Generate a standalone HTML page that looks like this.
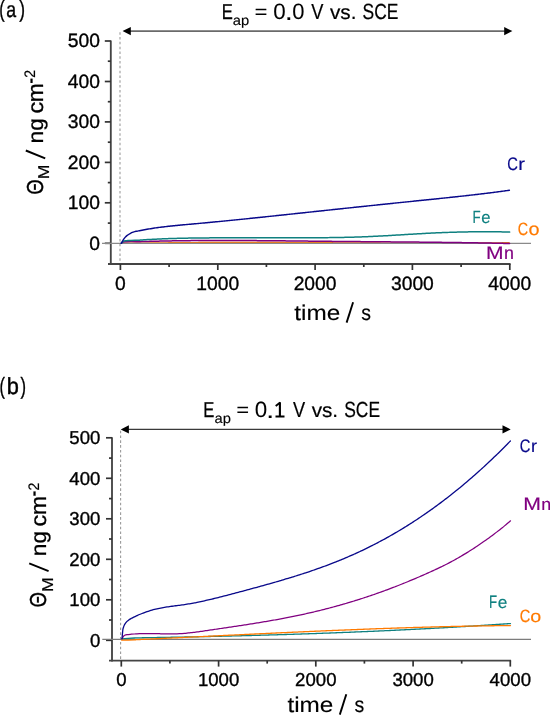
<!DOCTYPE html>
<html><head><meta charset="utf-8"><style>
html,body{margin:0;padding:0;background:#fff;}
body{width:550px;height:715px;overflow:hidden;}
svg{display:block;font-family:"Liberation Sans", sans-serif;will-change:transform;}
text{font-kerning:none;font-variant-ligatures:none;text-rendering:geometricPrecision;}
</style></head><body>
<svg width="550" height="715" viewBox="0 0 550 715">
<rect width="550" height="715" fill="#fff"/>
<line x1="120.0" y1="32.2" x2="120.0" y2="263" stroke="#a4a4a4" stroke-width="1.2" stroke-dasharray="2.5,2.31" stroke-dashoffset="0"/>
<line x1="128.6" y1="31.1" x2="506.4" y2="31.1" stroke="#6a6a6a" stroke-width="1.6"/>
<path d="M122.6,31.1 L130.79999999999998,27.0 L130.79999999999998,35.2 Z" fill="#000"/>
<path d="M512.4,31.1 L504.2,27.0 L504.2,35.2 Z" fill="#000"/>
<line x1="110.8" y1="40.5" x2="110.8" y2="264.9" stroke="#444444" stroke-width="1.85"/>
<line x1="108" y1="264" x2="510.6" y2="264" stroke="#444444" stroke-width="1.85"/>
<line x1="104.8" y1="243.3" x2="110.8" y2="243.3" stroke="#333333" stroke-width="1.7"/>
<line x1="107.8" y1="223.1" x2="110.8" y2="223.1" stroke="#333333" stroke-width="1.7"/>
<line x1="104.8" y1="202.8" x2="110.8" y2="202.8" stroke="#333333" stroke-width="1.7"/>
<line x1="107.8" y1="182.6" x2="110.8" y2="182.6" stroke="#333333" stroke-width="1.7"/>
<line x1="104.8" y1="162.4" x2="110.8" y2="162.4" stroke="#333333" stroke-width="1.7"/>
<line x1="107.8" y1="142.2" x2="110.8" y2="142.2" stroke="#333333" stroke-width="1.7"/>
<line x1="104.8" y1="121.9" x2="110.8" y2="121.9" stroke="#333333" stroke-width="1.7"/>
<line x1="107.8" y1="101.7" x2="110.8" y2="101.7" stroke="#333333" stroke-width="1.7"/>
<line x1="104.8" y1="81.5" x2="110.8" y2="81.5" stroke="#333333" stroke-width="1.7"/>
<line x1="107.8" y1="61.2" x2="110.8" y2="61.2" stroke="#333333" stroke-width="1.7"/>
<line x1="104.8" y1="41.0" x2="110.8" y2="41.0" stroke="#333333" stroke-width="1.7"/>
<line x1="120.4" y1="264" x2="120.4" y2="270" stroke="#333333" stroke-width="1.7"/>
<line x1="169.1" y1="264" x2="169.1" y2="267" stroke="#333333" stroke-width="1.7"/>
<line x1="217.8" y1="264" x2="217.8" y2="270" stroke="#333333" stroke-width="1.7"/>
<line x1="266.4" y1="264" x2="266.4" y2="267" stroke="#333333" stroke-width="1.7"/>
<line x1="315.1" y1="264" x2="315.1" y2="270" stroke="#333333" stroke-width="1.7"/>
<line x1="363.8" y1="264" x2="363.8" y2="267" stroke="#333333" stroke-width="1.7"/>
<line x1="412.4" y1="264" x2="412.4" y2="270" stroke="#333333" stroke-width="1.7"/>
<line x1="461.1" y1="264" x2="461.1" y2="267" stroke="#333333" stroke-width="1.7"/>
<line x1="509.8" y1="264" x2="509.8" y2="270" stroke="#333333" stroke-width="1.7"/>
<path d="M121.30,243.30 C122.42,243.30 125.72,243.29 128.00,243.30 C130.28,243.31 133.42,243.37 135.00,243.37 C136.58,243.37 136.67,243.34 137.50,243.32 C138.33,243.31 139.17,243.29 140.00,243.28 C140.83,243.26 141.67,243.25 142.50,243.24 C143.33,243.22 144.17,243.21 145.00,243.19 C145.83,243.18 146.67,243.17 147.50,243.15 C148.33,243.14 149.17,243.13 150.00,243.12 C150.83,243.10 151.67,243.09 152.50,243.08 C153.33,243.07 154.17,243.05 155.00,243.04 C155.83,243.03 156.67,243.02 157.50,243.01 C158.33,243.00 159.17,242.99 160.00,242.97 C160.83,242.96 161.67,242.95 162.50,242.94 C163.33,242.93 164.17,242.92 165.00,242.91 C165.83,242.90 166.67,242.89 167.50,242.88 C168.33,242.87 169.17,242.86 170.00,242.85 C170.83,242.85 171.67,242.84 172.50,242.83 C173.33,242.82 174.17,242.81 175.00,242.80 C175.83,242.79 176.67,242.79 177.50,242.78 C178.33,242.77 179.17,242.76 180.00,242.76 C180.83,242.75 181.67,242.74 182.50,242.73 C183.33,242.73 184.17,242.72 185.00,242.71 C185.83,242.71 186.67,242.70 187.50,242.69 C188.33,242.69 189.17,242.68 190.00,242.68 C190.83,242.67 191.67,242.66 192.50,242.66 C193.33,242.65 194.17,242.65 195.00,242.64 C195.83,242.64 196.67,242.63 197.50,242.63 C198.33,242.62 199.17,242.62 200.00,242.61 C200.83,242.61 201.67,242.60 202.50,242.60 C203.33,242.60 204.17,242.59 205.00,242.59 C205.83,242.58 206.67,242.58 207.50,242.58 C208.33,242.57 209.17,242.57 210.00,242.57 C210.83,242.56 211.67,242.56 212.50,242.56 C213.33,242.55 214.17,242.55 215.00,242.55 C215.83,242.55 216.67,242.54 217.50,242.54 C218.33,242.54 219.17,242.54 220.00,242.54 C220.83,242.53 221.67,242.53 222.50,242.53 C223.33,242.53 224.17,242.53 225.00,242.53 C225.83,242.52 226.67,242.52 227.50,242.52 C228.33,242.52 229.17,242.52 230.00,242.52 C230.83,242.52 231.67,242.52 232.50,242.52 C233.33,242.52 234.17,242.52 235.00,242.52 C235.83,242.52 236.67,242.52 237.50,242.52 C238.33,242.52 239.17,242.52 240.00,242.52 C240.83,242.52 241.67,242.52 242.50,242.52 C243.33,242.52 244.17,242.52 245.00,242.52 C245.83,242.52 246.67,242.52 247.50,242.52 C248.33,242.52 249.17,242.52 250.00,242.52 C250.83,242.52 251.67,242.53 252.50,242.53 C253.33,242.53 254.17,242.53 255.00,242.53 C255.83,242.53 256.67,242.53 257.50,242.54 C258.33,242.54 259.17,242.54 260.00,242.54 C260.83,242.54 261.67,242.55 262.50,242.55 C263.33,242.55 264.17,242.55 265.00,242.55 C265.83,242.56 266.67,242.56 267.50,242.56 C268.33,242.56 269.17,242.57 270.00,242.57 C270.83,242.57 271.67,242.57 272.50,242.58 C273.33,242.58 274.17,242.58 275.00,242.59 C275.83,242.59 276.67,242.59 277.50,242.59 C278.33,242.60 279.17,242.60 280.00,242.60 C280.83,242.61 281.67,242.61 282.50,242.61 C283.33,242.62 284.17,242.62 285.00,242.62 C285.83,242.63 286.67,242.63 287.50,242.63 C288.33,242.64 289.17,242.64 290.00,242.65 C290.83,242.65 291.67,242.65 292.50,242.66 C293.33,242.66 294.17,242.66 295.00,242.67 C295.83,242.67 296.67,242.68 297.50,242.68 C298.33,242.68 299.17,242.69 300.00,242.69 C300.83,242.70 301.67,242.70 302.50,242.71 C303.33,242.71 304.17,242.71 305.00,242.72 C305.83,242.72 306.67,242.73 307.50,242.73 C308.33,242.74 309.17,242.74 310.00,242.74 C310.83,242.75 311.67,242.75 312.50,242.76 C313.33,242.76 314.17,242.77 315.00,242.77 C315.83,242.78 316.67,242.78 317.50,242.79 C318.33,242.79 319.17,242.79 320.00,242.80 C320.83,242.80 321.67,242.81 322.50,242.81 C323.33,242.82 324.17,242.82 325.00,242.83 C325.83,242.83 326.67,242.84 327.50,242.84 C328.33,242.85 329.17,242.85 330.00,242.86 C330.83,242.86 331.67,242.86 332.50,242.87 C333.33,242.87 334.17,242.88 335.00,242.88 C335.83,242.89 336.67,242.89 337.50,242.90 C338.33,242.90 339.17,242.91 340.00,242.91 C340.83,242.92 341.67,242.92 342.50,242.93 C343.33,242.93 344.17,242.94 345.00,242.94 C345.83,242.95 346.67,242.95 347.50,242.95 C348.33,242.96 349.17,242.96 350.00,242.97 C350.83,242.97 351.67,242.98 352.50,242.98 C353.33,242.99 354.17,242.99 355.00,243.00 C355.83,243.00 356.67,243.00 357.50,243.01 C358.33,243.01 359.17,243.02 360.00,243.02 C360.83,243.03 361.67,243.03 362.50,243.04 C363.33,243.04 364.17,243.04 365.00,243.05 C365.83,243.05 366.67,243.06 367.50,243.06 C368.33,243.07 369.17,243.07 370.00,243.07 C370.83,243.08 371.67,243.08 372.50,243.09 C373.33,243.09 374.17,243.09 375.00,243.10 C375.83,243.10 376.67,243.11 377.50,243.11 C378.33,243.11 379.17,243.12 380.00,243.12 C380.83,243.12 381.67,243.13 382.50,243.13 C383.33,243.13 384.17,243.14 385.00,243.14 C385.83,243.14 386.67,243.15 387.50,243.15 C388.33,243.15 389.17,243.16 390.00,243.16 C390.83,243.16 391.67,243.17 392.50,243.17 C393.33,243.17 394.17,243.18 395.00,243.18 C395.83,243.18 396.67,243.18 397.50,243.19 C398.33,243.19 399.17,243.19 400.00,243.20 C400.83,243.20 401.67,243.20 402.50,243.20 C403.33,243.21 404.17,243.21 405.00,243.21 C405.83,243.21 406.67,243.21 407.50,243.22 C408.33,243.22 409.17,243.22 410.00,243.22 C410.83,243.22 411.67,243.22 412.50,243.23 C413.33,243.23 414.17,243.23 415.00,243.23 C415.83,243.23 416.67,243.23 417.50,243.23 C418.33,243.24 419.17,243.24 420.00,243.24 C420.83,243.24 421.67,243.24 422.50,243.24 C423.33,243.24 424.17,243.24 425.00,243.24 C425.83,243.24 426.67,243.24 427.50,243.24 C428.33,243.24 429.17,243.24 430.00,243.24 C430.83,243.24 431.67,243.24 432.50,243.24 C433.33,243.24 434.17,243.24 435.00,243.24 C435.83,243.24 436.67,243.24 437.50,243.24 C438.33,243.24 439.17,243.24 440.00,243.24 C440.83,243.24 441.67,243.24 442.50,243.24 C443.33,243.23 444.17,243.23 445.00,243.23 C445.83,243.23 446.67,243.23 447.50,243.23 C448.33,243.22 449.17,243.22 450.00,243.22 C450.83,243.22 451.67,243.22 452.50,243.21 C453.33,243.21 454.17,243.21 455.00,243.21 C455.83,243.20 456.67,243.20 457.50,243.20 C458.33,243.19 459.17,243.19 460.00,243.19 C460.83,243.18 461.67,243.18 462.50,243.18 C463.33,243.17 464.17,243.17 465.00,243.17 C465.83,243.16 466.67,243.16 467.50,243.15 C468.33,243.15 469.17,243.14 470.00,243.14 C470.83,243.13 471.67,243.13 472.50,243.12 C473.33,243.12 474.17,243.11 475.00,243.11 C475.83,243.10 476.67,243.10 477.50,243.09 C478.33,243.09 479.17,243.08 480.00,243.07 C480.83,243.07 481.67,243.06 482.50,243.05 C483.33,243.05 484.17,243.04 485.00,243.03 C485.83,243.03 486.67,243.02 487.50,243.01 C488.33,243.01 489.17,243.00 490.00,242.99 C490.83,242.98 491.67,242.98 492.50,242.97 C493.33,242.96 494.17,242.95 495.00,242.94 C495.83,242.93 496.67,242.92 497.50,242.92 C498.33,242.91 499.17,242.90 500.00,242.89 C500.83,242.88 501.67,242.87 502.50,242.86 C503.33,242.85 504.17,242.84 505.00,242.83 C505.83,242.82 506.73,242.81 507.50,242.80 C508.27,242.79 509.25,242.78 509.60,242.77" fill="none" stroke="#ff7a00" stroke-width="1.5" stroke-linejoin="round"/>
<line x1="102" y1="243.4" x2="531" y2="243.4" stroke="#8a8a8a" stroke-width="1.2"/>
<path d="M121.30,243.30 C121.47,243.17 121.97,242.72 122.30,242.50 C122.63,242.28 122.68,242.12 123.30,242.00 C123.92,241.88 124.80,241.87 126.00,241.80 C127.20,241.73 128.17,241.63 130.50,241.60 C132.83,241.57 138.00,241.65 140.00,241.65 C142.00,241.64 141.67,241.60 142.50,241.57 C143.33,241.54 144.17,241.52 145.00,241.49 C145.83,241.47 146.67,241.45 147.50,241.42 C148.33,241.40 149.17,241.38 150.00,241.35 C150.83,241.33 151.67,241.31 152.50,241.29 C153.33,241.27 154.17,241.25 155.00,241.23 C155.83,241.21 156.67,241.19 157.50,241.17 C158.33,241.15 159.17,241.13 160.00,241.11 C160.83,241.09 161.67,241.07 162.50,241.05 C163.33,241.04 164.17,241.02 165.00,241.00 C165.83,240.99 166.67,240.97 167.50,240.96 C168.33,240.94 169.17,240.92 170.00,240.91 C170.83,240.89 171.67,240.88 172.50,240.87 C173.33,240.85 174.17,240.84 175.00,240.83 C175.83,240.81 176.67,240.80 177.50,240.79 C178.33,240.78 179.17,240.76 180.00,240.75 C180.83,240.74 181.67,240.73 182.50,240.72 C183.33,240.71 184.17,240.70 185.00,240.69 C185.83,240.68 186.67,240.67 187.50,240.66 C188.33,240.65 189.17,240.64 190.00,240.63 C190.83,240.63 191.67,240.62 192.50,240.61 C193.33,240.60 194.17,240.60 195.00,240.59 C195.83,240.58 196.67,240.58 197.50,240.57 C198.33,240.56 199.17,240.56 200.00,240.55 C200.83,240.55 201.67,240.54 202.50,240.54 C203.33,240.53 204.17,240.53 205.00,240.52 C205.83,240.52 206.67,240.52 207.50,240.51 C208.33,240.51 209.17,240.51 210.00,240.50 C210.83,240.50 211.67,240.50 212.50,240.50 C213.33,240.49 214.17,240.49 215.00,240.49 C215.83,240.49 216.67,240.49 217.50,240.49 C218.33,240.49 219.17,240.49 220.00,240.49 C220.83,240.49 221.67,240.48 222.50,240.49 C223.33,240.49 224.17,240.49 225.00,240.49 C225.83,240.49 226.67,240.49 227.50,240.49 C228.33,240.49 229.17,240.49 230.00,240.49 C230.83,240.50 231.67,240.50 232.50,240.50 C233.33,240.50 234.17,240.50 235.00,240.51 C235.83,240.51 236.67,240.51 237.50,240.52 C238.33,240.52 239.17,240.52 240.00,240.53 C240.83,240.53 241.67,240.53 242.50,240.54 C243.33,240.54 244.17,240.54 245.00,240.55 C245.83,240.55 246.67,240.56 247.50,240.56 C248.33,240.57 249.17,240.57 250.00,240.58 C250.83,240.58 251.67,240.59 252.50,240.59 C253.33,240.60 254.17,240.60 255.00,240.61 C255.83,240.62 256.67,240.62 257.50,240.63 C258.33,240.63 259.17,240.64 260.00,240.65 C260.83,240.65 261.67,240.66 262.50,240.67 C263.33,240.67 264.17,240.68 265.00,240.69 C265.83,240.69 266.67,240.70 267.50,240.71 C268.33,240.72 269.17,240.72 270.00,240.73 C270.83,240.74 271.67,240.74 272.50,240.75 C273.33,240.76 274.17,240.77 275.00,240.78 C275.83,240.78 276.67,240.79 277.50,240.80 C278.33,240.81 279.17,240.82 280.00,240.82 C280.83,240.83 281.67,240.84 282.50,240.85 C283.33,240.86 284.17,240.87 285.00,240.87 C285.83,240.88 286.67,240.89 287.50,240.90 C288.33,240.91 289.17,240.92 290.00,240.93 C290.83,240.94 291.67,240.94 292.50,240.95 C293.33,240.96 294.17,240.97 295.00,240.98 C295.83,240.99 296.67,241.00 297.50,241.01 C298.33,241.02 299.17,241.03 300.00,241.03 C300.83,241.04 301.67,241.05 302.50,241.06 C303.33,241.07 304.17,241.08 305.00,241.09 C305.83,241.10 306.67,241.11 307.50,241.12 C308.33,241.12 309.17,241.13 310.00,241.14 C310.83,241.15 311.67,241.16 312.50,241.17 C313.33,241.18 314.17,241.19 315.00,241.20 C315.83,241.21 316.67,241.21 317.50,241.22 C318.33,241.23 319.17,241.24 320.00,241.25 C320.83,241.26 321.67,241.27 322.50,241.28 C323.33,241.28 324.17,241.29 325.00,241.30 C325.83,241.31 326.67,241.32 327.50,241.33 C328.33,241.34 329.17,241.34 330.00,241.35 C330.83,241.36 331.67,241.37 332.50,241.38 C333.33,241.39 334.17,241.39 335.00,241.40 C335.83,241.41 336.67,241.42 337.50,241.42 C338.33,241.43 339.17,241.44 340.00,241.45 C340.83,241.46 341.67,241.46 342.50,241.47 C343.33,241.48 344.17,241.49 345.00,241.49 C345.83,241.50 346.67,241.51 347.50,241.52 C348.33,241.52 349.17,241.53 350.00,241.54 C350.83,241.54 351.67,241.55 352.50,241.56 C353.33,241.57 354.17,241.57 355.00,241.58 C355.83,241.59 356.67,241.59 357.50,241.60 C358.33,241.61 359.17,241.62 360.00,241.62 C360.83,241.63 361.67,241.64 362.50,241.64 C363.33,241.65 364.17,241.66 365.00,241.66 C365.83,241.67 366.67,241.68 367.50,241.68 C368.33,241.69 369.17,241.70 370.00,241.70 C370.83,241.71 371.67,241.72 372.50,241.72 C373.33,241.73 374.17,241.74 375.00,241.75 C375.83,241.75 376.67,241.76 377.50,241.77 C378.33,241.77 379.17,241.78 380.00,241.79 C380.83,241.79 381.67,241.80 382.50,241.81 C383.33,241.81 384.17,241.82 385.00,241.83 C385.83,241.83 386.67,241.84 387.50,241.85 C388.33,241.85 389.17,241.86 390.00,241.87 C390.83,241.87 391.67,241.88 392.50,241.89 C393.33,241.90 394.17,241.90 395.00,241.91 C395.83,241.92 396.67,241.92 397.50,241.93 C398.33,241.94 399.17,241.94 400.00,241.95 C400.83,241.96 401.67,241.97 402.50,241.97 C403.33,241.98 404.17,241.99 405.00,242.00 C405.83,242.00 406.67,242.01 407.50,242.02 C408.33,242.03 409.17,242.03 410.00,242.04 C410.83,242.05 411.67,242.06 412.50,242.06 C413.33,242.07 414.17,242.08 415.00,242.09 C415.83,242.09 416.67,242.10 417.50,242.11 C418.33,242.12 419.17,242.13 420.00,242.13 C420.83,242.14 421.67,242.15 422.50,242.16 C423.33,242.17 424.17,242.18 425.00,242.18 C425.83,242.19 426.67,242.20 427.50,242.21 C428.33,242.22 429.17,242.23 430.00,242.24 C430.83,242.24 431.67,242.25 432.50,242.26 C433.33,242.27 434.17,242.28 435.00,242.29 C435.83,242.30 436.67,242.31 437.50,242.32 C438.33,242.33 439.17,242.34 440.00,242.35 C440.83,242.36 441.67,242.37 442.50,242.38 C443.33,242.39 444.17,242.40 445.00,242.41 C445.83,242.42 446.67,242.43 447.50,242.44 C448.33,242.45 449.17,242.46 450.00,242.47 C450.83,242.48 451.67,242.49 452.50,242.50 C453.33,242.51 454.17,242.52 455.00,242.53 C455.83,242.55 456.67,242.56 457.50,242.57 C458.33,242.58 459.17,242.59 460.00,242.60 C460.83,242.61 461.67,242.63 462.50,242.64 C463.33,242.65 464.17,242.66 465.00,242.68 C465.83,242.69 466.67,242.70 467.50,242.71 C468.33,242.73 469.17,242.74 470.00,242.75 C470.83,242.76 471.67,242.78 472.50,242.79 C473.33,242.80 474.17,242.82 475.00,242.83 C475.83,242.85 476.67,242.86 477.50,242.87 C478.33,242.89 479.17,242.90 480.00,242.92 C480.83,242.93 481.67,242.95 482.50,242.96 C483.33,242.98 484.17,242.99 485.00,243.01 C485.83,243.02 486.67,243.04 487.50,243.05 C488.33,243.07 489.17,243.08 490.00,243.10 C490.83,243.11 491.67,243.13 492.50,243.15 C493.33,243.16 494.17,243.18 495.00,243.20 C495.83,243.21 496.67,243.23 497.50,243.25 C498.33,243.27 499.17,243.28 500.00,243.30 C500.83,243.32 501.67,243.34 502.50,243.35 C503.33,243.37 504.17,243.39 505.00,243.41 C505.83,243.43 506.73,243.45 507.50,243.47 C508.27,243.48 509.25,243.51 509.60,243.51" fill="none" stroke="#800080" stroke-width="1.5" stroke-linejoin="round" stroke-linecap="round"/>
<path d="M121.30,243.30 C121.47,243.13 121.97,242.62 122.30,242.30 C122.63,241.98 122.80,241.65 123.30,241.40 C123.80,241.15 124.52,240.95 125.30,240.80 C126.08,240.65 127.05,240.57 128.00,240.50 C128.95,240.43 129.83,240.43 131.00,240.40 C132.17,240.37 133.53,240.33 135.00,240.30 C136.47,240.27 138.97,240.23 139.80,240.20 C140.63,240.17 139.55,240.15 140.00,240.10 C140.45,240.06 141.67,239.99 142.50,239.93 C143.33,239.88 144.17,239.82 145.00,239.77 C145.83,239.72 146.67,239.66 147.50,239.62 C148.33,239.57 149.17,239.52 150.00,239.47 C150.83,239.42 151.67,239.38 152.50,239.33 C153.33,239.29 154.17,239.24 155.00,239.20 C155.83,239.16 156.67,239.12 157.50,239.08 C158.33,239.04 159.17,239.00 160.00,238.97 C160.83,238.93 161.67,238.89 162.50,238.86 C163.33,238.82 164.17,238.79 165.00,238.76 C165.83,238.73 166.67,238.69 167.50,238.66 C168.33,238.63 169.17,238.60 170.00,238.58 C170.83,238.55 171.67,238.52 172.50,238.50 C173.33,238.47 174.17,238.44 175.00,238.42 C175.83,238.40 176.67,238.37 177.50,238.35 C178.33,238.33 179.17,238.31 180.00,238.29 C180.83,238.27 181.67,238.25 182.50,238.23 C183.33,238.21 184.17,238.19 185.00,238.18 C185.83,238.16 186.67,238.14 187.50,238.13 C188.33,238.11 189.17,238.10 190.00,238.08 C190.83,238.07 191.67,238.06 192.50,238.05 C193.33,238.03 194.17,238.02 195.00,238.01 C195.83,238.00 196.67,237.99 197.50,237.98 C198.33,237.97 199.17,237.96 200.00,237.95 C200.83,237.94 201.67,237.94 202.50,237.93 C203.33,237.92 204.17,237.91 205.00,237.91 C205.83,237.90 206.67,237.90 207.50,237.89 C208.33,237.88 209.17,237.88 210.00,237.87 C210.83,237.87 211.67,237.87 212.50,237.86 C213.33,237.86 214.17,237.86 215.00,237.85 C215.83,237.85 216.67,237.85 217.50,237.84 C218.33,237.84 219.17,237.84 220.00,237.84 C220.83,237.84 221.67,237.84 222.50,237.83 C223.33,237.83 224.17,237.83 225.00,237.83 C225.83,237.83 226.67,237.83 227.50,237.83 C228.33,237.83 229.17,237.83 230.00,237.83 C230.83,237.83 231.67,237.83 232.50,237.83 C233.33,237.83 234.17,237.83 235.00,237.83 C235.83,237.83 236.67,237.83 237.50,237.83 C238.33,237.83 239.17,237.83 240.00,237.83 C240.83,237.83 241.67,237.83 242.50,237.83 C243.33,237.83 244.17,237.83 245.00,237.83 C245.83,237.83 246.67,237.83 247.50,237.83 C248.33,237.83 249.17,237.83 250.00,237.83 C250.83,237.83 251.67,237.83 252.50,237.83 C253.33,237.83 254.17,237.84 255.00,237.84 C255.83,237.84 256.67,237.84 257.50,237.84 C258.33,237.84 259.17,237.84 260.00,237.84 C260.83,237.84 261.67,237.84 262.50,237.84 C263.33,237.84 264.17,237.84 265.00,237.84 C265.83,237.84 266.67,237.84 267.50,237.84 C268.33,237.84 269.17,237.84 270.00,237.84 C270.83,237.84 271.67,237.84 272.50,237.84 C273.33,237.84 274.17,237.84 275.00,237.84 C275.83,237.84 276.67,237.84 277.50,237.84 C278.33,237.83 279.17,237.83 280.00,237.83 C280.83,237.83 281.67,237.83 282.50,237.83 C283.33,237.83 284.17,237.83 285.00,237.83 C285.83,237.83 286.67,237.83 287.50,237.82 C288.33,237.82 289.17,237.82 290.00,237.82 C290.83,237.82 291.67,237.82 292.50,237.82 C293.33,237.81 294.17,237.81 295.00,237.81 C295.83,237.81 296.67,237.81 297.50,237.80 C298.33,237.80 299.17,237.80 300.00,237.80 C300.83,237.79 301.67,237.79 302.50,237.79 C303.33,237.79 304.17,237.78 305.00,237.78 C305.83,237.78 306.67,237.77 307.50,237.77 C308.33,237.77 309.17,237.76 310.00,237.76 C310.83,237.75 311.67,237.75 312.50,237.75 C313.33,237.74 314.17,237.74 315.00,237.73 C315.83,237.73 316.67,237.72 317.50,237.72 C318.33,237.71 319.17,237.71 320.00,237.70 C320.83,237.70 321.67,237.69 322.50,237.68 C323.33,237.68 324.17,237.67 325.00,237.66 C325.83,237.65 326.67,237.65 327.50,237.64 C328.33,237.63 329.17,237.62 330.00,237.61 C330.83,237.60 331.67,237.59 332.50,237.58 C333.33,237.57 334.17,237.56 335.00,237.55 C335.83,237.53 336.67,237.52 337.50,237.51 C338.33,237.49 339.17,237.48 340.00,237.47 C340.83,237.45 341.67,237.44 342.50,237.42 C343.33,237.40 344.17,237.39 345.00,237.37 C345.83,237.35 346.67,237.33 347.50,237.31 C348.33,237.29 349.17,237.27 350.00,237.25 C350.83,237.23 351.67,237.21 352.50,237.18 C353.33,237.16 354.17,237.14 355.00,237.11 C355.83,237.09 356.67,237.06 357.50,237.03 C358.33,237.00 359.17,236.98 360.00,236.95 C360.83,236.92 361.67,236.89 362.50,236.85 C363.33,236.82 364.17,236.79 365.00,236.76 C365.83,236.72 366.67,236.69 367.50,236.65 C368.33,236.61 369.17,236.58 370.00,236.54 C370.83,236.50 371.67,236.46 372.50,236.42 C373.33,236.38 374.17,236.34 375.00,236.30 C375.83,236.26 376.67,236.22 377.50,236.17 C378.33,236.13 379.17,236.09 380.00,236.04 C380.83,236.00 381.67,235.95 382.50,235.91 C383.33,235.86 384.17,235.82 385.00,235.77 C385.83,235.72 386.67,235.68 387.50,235.63 C388.33,235.58 389.17,235.53 390.00,235.49 C390.83,235.44 391.67,235.39 392.50,235.34 C393.33,235.29 394.17,235.24 395.00,235.19 C395.83,235.14 396.67,235.09 397.50,235.04 C398.33,234.99 399.17,234.94 400.00,234.89 C400.83,234.84 401.67,234.79 402.50,234.74 C403.33,234.69 404.17,234.64 405.00,234.59 C405.83,234.54 406.67,234.49 407.50,234.44 C408.33,234.39 409.17,234.34 410.00,234.29 C410.83,234.24 411.67,234.19 412.50,234.14 C413.33,234.09 414.17,234.04 415.00,234.00 C415.83,233.95 416.67,233.90 417.50,233.85 C418.33,233.80 419.17,233.76 420.00,233.71 C420.83,233.66 421.67,233.61 422.50,233.57 C423.33,233.52 424.17,233.48 425.00,233.43 C425.83,233.39 426.67,233.34 427.50,233.30 C428.33,233.26 429.17,233.21 430.00,233.17 C430.83,233.13 431.67,233.09 432.50,233.05 C433.33,233.01 434.17,232.97 435.00,232.93 C435.83,232.89 436.67,232.85 437.50,232.81 C438.33,232.78 439.17,232.74 440.00,232.71 C440.83,232.67 441.67,232.64 442.50,232.60 C443.33,232.57 444.17,232.54 445.00,232.51 C445.83,232.48 446.67,232.44 447.50,232.42 C448.33,232.39 449.17,232.36 450.00,232.33 C450.83,232.30 451.67,232.27 452.50,232.25 C453.33,232.22 454.17,232.20 455.00,232.17 C455.83,232.15 456.67,232.13 457.50,232.10 C458.33,232.08 459.17,232.06 460.00,232.04 C460.83,232.02 461.67,232.00 462.50,231.98 C463.33,231.96 464.17,231.95 465.00,231.93 C465.83,231.91 466.67,231.90 467.50,231.88 C468.33,231.87 469.17,231.85 470.00,231.84 C470.83,231.83 471.67,231.81 472.50,231.80 C473.33,231.79 474.17,231.78 475.00,231.77 C475.83,231.76 476.67,231.75 477.50,231.75 C478.33,231.74 479.17,231.73 480.00,231.73 C480.83,231.72 481.67,231.72 482.50,231.71 C483.33,231.71 484.17,231.70 485.00,231.70 C485.83,231.70 486.67,231.70 487.50,231.70 C488.33,231.70 489.17,231.70 490.00,231.71 C490.83,231.71 491.67,231.72 492.50,231.72 C493.33,231.73 494.17,231.74 495.00,231.75 C495.83,231.76 496.67,231.77 497.50,231.78 C498.33,231.80 499.17,231.81 500.00,231.83 C500.83,231.85 501.67,231.86 502.50,231.89 C503.33,231.91 504.17,231.93 505.00,231.96 C505.83,231.98 506.73,232.01 507.50,232.04 C508.27,232.07 509.25,232.11 509.60,232.12" fill="none" stroke="#0f8080" stroke-width="1.5" stroke-linejoin="round" stroke-linecap="round"/>
<path d="M121.30,243.30 C121.43,243.07 121.75,242.50 122.10,241.90 C122.45,241.30 122.90,240.45 123.40,239.70 C123.90,238.95 124.52,238.08 125.10,237.40 C125.68,236.72 126.00,236.28 126.90,235.60 C127.80,234.92 129.45,233.88 130.50,233.30 C131.55,232.72 132.28,232.45 133.20,232.10 C134.12,231.75 135.37,231.35 136.00,231.20 C136.63,231.05 136.42,231.31 137.00,231.22 C137.58,231.14 138.67,230.86 139.50,230.69 C140.33,230.52 141.17,230.35 142.00,230.19 C142.83,230.03 143.67,229.87 144.50,229.72 C145.33,229.57 146.17,229.42 147.00,229.27 C147.83,229.13 148.67,228.99 149.50,228.85 C150.33,228.71 151.17,228.58 152.00,228.45 C152.83,228.32 153.67,228.20 154.50,228.07 C155.33,227.95 156.17,227.83 157.00,227.72 C157.83,227.60 158.67,227.49 159.50,227.38 C160.33,227.27 161.17,227.16 162.00,227.06 C162.83,226.95 163.67,226.85 164.50,226.75 C165.33,226.66 166.17,226.56 167.00,226.46 C167.83,226.37 168.67,226.28 169.50,226.19 C170.33,226.10 171.17,226.01 172.00,225.92 C172.83,225.84 173.67,225.75 174.50,225.67 C175.33,225.58 176.17,225.50 177.00,225.42 C177.83,225.34 178.67,225.26 179.50,225.18 C180.33,225.10 181.17,225.03 182.00,224.95 C182.83,224.87 183.67,224.80 184.50,224.72 C185.33,224.65 186.17,224.57 187.00,224.50 C187.83,224.42 188.67,224.35 189.50,224.27 C190.33,224.20 191.17,224.12 192.00,224.05 C192.83,223.98 193.67,223.90 194.50,223.83 C195.33,223.75 196.17,223.67 197.00,223.60 C197.83,223.52 198.67,223.45 199.50,223.37 C200.33,223.29 201.17,223.22 202.00,223.14 C202.83,223.06 203.67,222.99 204.50,222.91 C205.33,222.83 206.17,222.75 207.00,222.67 C207.83,222.60 208.67,222.52 209.50,222.44 C210.33,222.36 211.17,222.28 212.00,222.20 C212.83,222.12 213.67,222.04 214.50,221.96 C215.33,221.88 216.17,221.80 217.00,221.72 C217.83,221.64 218.67,221.56 219.50,221.48 C220.33,221.40 221.17,221.32 222.00,221.23 C222.83,221.15 223.67,221.07 224.50,220.99 C225.33,220.91 226.17,220.83 227.00,220.74 C227.83,220.66 228.67,220.58 229.50,220.50 C230.33,220.41 231.17,220.33 232.00,220.25 C232.83,220.16 233.67,220.08 234.50,220.00 C235.33,219.91 236.17,219.83 237.00,219.74 C237.83,219.66 238.67,219.58 239.50,219.49 C240.33,219.41 241.17,219.32 242.00,219.24 C242.83,219.15 243.67,219.07 244.50,218.98 C245.33,218.90 246.17,218.81 247.00,218.73 C247.83,218.64 248.67,218.55 249.50,218.47 C250.33,218.38 251.17,218.30 252.00,218.21 C252.83,218.12 253.67,218.04 254.50,217.95 C255.33,217.86 256.17,217.78 257.00,217.69 C257.83,217.60 258.67,217.52 259.50,217.43 C260.33,217.34 261.17,217.26 262.00,217.17 C262.83,217.08 263.67,216.99 264.50,216.91 C265.33,216.82 266.17,216.73 267.00,216.64 C267.83,216.56 268.67,216.47 269.50,216.38 C270.33,216.29 271.17,216.21 272.00,216.12 C272.83,216.03 273.67,215.94 274.50,215.85 C275.33,215.76 276.17,215.68 277.00,215.59 C277.83,215.50 278.67,215.41 279.50,215.32 C280.33,215.23 281.17,215.15 282.00,215.06 C282.83,214.97 283.67,214.88 284.50,214.79 C285.33,214.70 286.17,214.61 287.00,214.52 C287.83,214.44 288.67,214.35 289.50,214.26 C290.33,214.17 291.17,214.08 292.00,213.99 C292.83,213.90 293.67,213.81 294.50,213.72 C295.33,213.64 296.17,213.55 297.00,213.46 C297.83,213.37 298.67,213.28 299.50,213.19 C300.33,213.10 301.17,213.01 302.00,212.92 C302.83,212.83 303.67,212.75 304.50,212.66 C305.33,212.57 306.17,212.48 307.00,212.39 C307.83,212.30 308.67,212.21 309.50,212.12 C310.33,212.03 311.17,211.95 312.00,211.86 C312.83,211.77 313.67,211.68 314.50,211.59 C315.33,211.50 316.17,211.41 317.00,211.32 C317.83,211.23 318.67,211.15 319.50,211.06 C320.33,210.97 321.17,210.88 322.00,210.79 C322.83,210.70 323.67,210.61 324.50,210.52 C325.33,210.43 326.17,210.35 327.00,210.26 C327.83,210.17 328.67,210.08 329.50,209.99 C330.33,209.90 331.17,209.81 332.00,209.73 C332.83,209.64 333.67,209.55 334.50,209.46 C335.33,209.37 336.17,209.28 337.00,209.19 C337.83,209.11 338.67,209.02 339.50,208.93 C340.33,208.84 341.17,208.75 342.00,208.66 C342.83,208.58 343.67,208.49 344.50,208.40 C345.33,208.31 346.17,208.22 347.00,208.13 C347.83,208.05 348.67,207.96 349.50,207.87 C350.33,207.78 351.17,207.69 352.00,207.60 C352.83,207.52 353.67,207.43 354.50,207.34 C355.33,207.25 356.17,207.16 357.00,207.08 C357.83,206.99 358.67,206.90 359.50,206.81 C360.33,206.72 361.17,206.64 362.00,206.55 C362.83,206.46 363.67,206.37 364.50,206.29 C365.33,206.20 366.17,206.11 367.00,206.02 C367.83,205.94 368.67,205.85 369.50,205.76 C370.33,205.67 371.17,205.59 372.00,205.50 C372.83,205.41 373.67,205.32 374.50,205.24 C375.33,205.15 376.17,205.06 377.00,204.97 C377.83,204.89 378.67,204.80 379.50,204.71 C380.33,204.63 381.17,204.54 382.00,204.45 C382.83,204.37 383.67,204.28 384.50,204.19 C385.33,204.10 386.17,204.02 387.00,203.93 C387.83,203.84 388.67,203.76 389.50,203.67 C390.33,203.58 391.17,203.50 392.00,203.41 C392.83,203.33 393.67,203.24 394.50,203.15 C395.33,203.07 396.17,202.98 397.00,202.89 C397.83,202.81 398.67,202.72 399.50,202.64 C400.33,202.55 401.17,202.46 402.00,202.38 C402.83,202.29 403.67,202.21 404.50,202.12 C405.33,202.03 406.17,201.95 407.00,201.86 C407.83,201.78 408.67,201.69 409.50,201.61 C410.33,201.52 411.17,201.44 412.00,201.35 C412.83,201.26 413.67,201.18 414.50,201.09 C415.33,201.01 416.17,200.92 417.00,200.84 C417.83,200.75 418.67,200.67 419.50,200.58 C420.33,200.50 421.17,200.41 422.00,200.33 C422.83,200.24 423.67,200.16 424.50,200.07 C425.33,199.99 426.17,199.90 427.00,199.82 C427.83,199.73 428.67,199.65 429.50,199.56 C430.33,199.48 431.17,199.39 432.00,199.30 C432.83,199.22 433.67,199.13 434.50,199.05 C435.33,198.96 436.17,198.88 437.00,198.79 C437.83,198.70 438.67,198.62 439.50,198.53 C440.33,198.44 441.17,198.36 442.00,198.27 C442.83,198.18 443.67,198.10 444.50,198.01 C445.33,197.92 446.17,197.83 447.00,197.74 C447.83,197.66 448.67,197.57 449.50,197.48 C450.33,197.39 451.17,197.30 452.00,197.21 C452.83,197.12 453.67,197.04 454.50,196.95 C455.33,196.86 456.17,196.77 457.00,196.68 C457.83,196.59 458.67,196.49 459.50,196.40 C460.33,196.31 461.17,196.22 462.00,196.13 C462.83,196.04 463.67,195.94 464.50,195.85 C465.33,195.76 466.17,195.67 467.00,195.57 C467.83,195.48 468.67,195.38 469.50,195.29 C470.33,195.19 471.17,195.10 472.00,195.00 C472.83,194.91 473.67,194.81 474.50,194.72 C475.33,194.62 476.17,194.52 477.00,194.42 C477.83,194.33 478.67,194.23 479.50,194.13 C480.33,194.03 481.17,193.93 482.00,193.83 C482.83,193.73 483.67,193.63 484.50,193.53 C485.33,193.43 486.17,193.33 487.00,193.22 C487.83,193.12 488.67,193.02 489.50,192.91 C490.33,192.81 491.17,192.71 492.00,192.60 C492.83,192.49 493.67,192.39 494.50,192.28 C495.33,192.18 496.17,192.07 497.00,191.96 C497.83,191.85 498.67,191.74 499.50,191.63 C500.33,191.52 501.17,191.41 502.00,191.30 C502.83,191.19 503.67,191.08 504.50,190.97 C505.33,190.85 506.18,190.74 507.00,190.63 C507.82,190.51 509.00,190.35 509.40,190.29" fill="none" stroke="#08088a" stroke-width="1.45" stroke-linejoin="round" stroke-linecap="round"/>
<text x="100.0" y="249.7" font-size="19.3" text-anchor="end" fill="#000" stroke="#000" stroke-width="0.35">0</text>
<text x="100.0" y="209.2" font-size="19.3" text-anchor="end" fill="#000" stroke="#000" stroke-width="0.35">100</text>
<text x="100.0" y="168.8" font-size="19.3" text-anchor="end" fill="#000" stroke="#000" stroke-width="0.35">200</text>
<text x="100.0" y="128.3" font-size="19.3" text-anchor="end" fill="#000" stroke="#000" stroke-width="0.35">300</text>
<text x="100.0" y="87.9" font-size="19.3" text-anchor="end" fill="#000" stroke="#000" stroke-width="0.35">400</text>
<text x="100.0" y="47.4" font-size="19.3" text-anchor="end" fill="#000" stroke="#000" stroke-width="0.35">500</text>
<text x="120.4" y="289.5" font-size="19.3" text-anchor="middle" fill="#000" stroke="#000" stroke-width="0.35">0</text>
<text x="217.8" y="289.5" font-size="19.3" text-anchor="middle" fill="#000" stroke="#000" stroke-width="0.35">1000</text>
<text x="315.1" y="289.5" font-size="19.3" text-anchor="middle" fill="#000" stroke="#000" stroke-width="0.35">2000</text>
<text x="412.4" y="289.5" font-size="19.3" text-anchor="middle" fill="#000" stroke="#000" stroke-width="0.35">3000</text>
<text x="509.8" y="289.5" font-size="19.3" text-anchor="middle" fill="#000" stroke="#000" stroke-width="0.35">4000</text>
<line x1="120.6" y1="430" x2="120.6" y2="659.6" stroke="#9a9a9a" stroke-width="1.1" stroke-dasharray="2.6,2.2" stroke-dashoffset="4.1"/>
<line x1="126.7" y1="429.4" x2="504.7" y2="429.4" stroke="#3a3a3a" stroke-width="1.2"/>
<path d="M120.7,429.4 L128.9,425.29999999999995 L128.9,433.5 Z" fill="#000"/>
<path d="M510.7,429.4 L502.5,425.29999999999995 L502.5,433.5 Z" fill="#000"/>
<line x1="112" y1="437.3" x2="112" y2="661.5" stroke="#444444" stroke-width="1.85"/>
<line x1="109" y1="660.6" x2="511.1" y2="660.6" stroke="#444444" stroke-width="1.85"/>
<line x1="106" y1="640.3" x2="112" y2="640.3" stroke="#333333" stroke-width="1.7"/>
<line x1="109" y1="620.0" x2="112" y2="620.0" stroke="#333333" stroke-width="1.7"/>
<line x1="106" y1="599.8" x2="112" y2="599.8" stroke="#333333" stroke-width="1.7"/>
<line x1="109" y1="579.5" x2="112" y2="579.5" stroke="#333333" stroke-width="1.7"/>
<line x1="106" y1="559.3" x2="112" y2="559.3" stroke="#333333" stroke-width="1.7"/>
<line x1="109" y1="539.0" x2="112" y2="539.0" stroke="#333333" stroke-width="1.7"/>
<line x1="106" y1="518.8" x2="112" y2="518.8" stroke="#333333" stroke-width="1.7"/>
<line x1="109" y1="498.6" x2="112" y2="498.6" stroke="#333333" stroke-width="1.7"/>
<line x1="106" y1="478.3" x2="112" y2="478.3" stroke="#333333" stroke-width="1.7"/>
<line x1="109" y1="458.1" x2="112" y2="458.1" stroke="#333333" stroke-width="1.7"/>
<line x1="106" y1="437.8" x2="112" y2="437.8" stroke="#333333" stroke-width="1.7"/>
<line x1="121.3" y1="660.6" x2="121.3" y2="666.6" stroke="#333333" stroke-width="1.7"/>
<line x1="169.9" y1="660.6" x2="169.9" y2="663.6" stroke="#333333" stroke-width="1.7"/>
<line x1="218.6" y1="660.6" x2="218.6" y2="666.6" stroke="#333333" stroke-width="1.7"/>
<line x1="267.2" y1="660.6" x2="267.2" y2="663.6" stroke="#333333" stroke-width="1.7"/>
<line x1="315.8" y1="660.6" x2="315.8" y2="666.6" stroke="#333333" stroke-width="1.7"/>
<line x1="364.4" y1="660.6" x2="364.4" y2="663.6" stroke="#333333" stroke-width="1.7"/>
<line x1="413.1" y1="660.6" x2="413.1" y2="666.6" stroke="#333333" stroke-width="1.7"/>
<line x1="461.7" y1="660.6" x2="461.7" y2="663.6" stroke="#333333" stroke-width="1.7"/>
<line x1="510.3" y1="660.6" x2="510.3" y2="666.6" stroke="#333333" stroke-width="1.7"/>
<line x1="102.3" y1="639.35" x2="531" y2="639.35" stroke="#7c7c7c" stroke-width="1.2"/>
<path d="M121.70,638.80 C123.83,638.67 132.28,638.15 134.50,638.00 C136.72,637.85 134.50,637.90 135.00,637.88 C135.50,637.85 136.67,637.85 137.50,637.84 C138.33,637.83 139.17,637.81 140.00,637.80 C140.83,637.79 141.67,637.77 142.50,637.76 C143.33,637.75 144.17,637.73 145.00,637.72 C145.83,637.71 146.67,637.69 147.50,637.68 C148.33,637.67 149.17,637.65 150.00,637.64 C150.83,637.63 151.67,637.61 152.50,637.60 C153.33,637.58 154.17,637.57 155.00,637.56 C155.83,637.54 156.67,637.53 157.50,637.51 C158.33,637.50 159.17,637.48 160.00,637.47 C160.83,637.46 161.67,637.44 162.50,637.43 C163.33,637.41 164.17,637.40 165.00,637.38 C165.83,637.37 166.67,637.35 167.50,637.34 C168.33,637.32 169.17,637.31 170.00,637.29 C170.83,637.28 171.67,637.26 172.50,637.25 C173.33,637.23 174.17,637.22 175.00,637.20 C175.83,637.18 176.67,637.17 177.50,637.15 C178.33,637.14 179.17,637.12 180.00,637.11 C180.83,637.09 181.67,637.07 182.50,637.06 C183.33,637.04 184.17,637.03 185.00,637.01 C185.83,636.99 186.67,636.98 187.50,636.96 C188.33,636.94 189.17,636.93 190.00,636.91 C190.83,636.89 191.67,636.88 192.50,636.86 C193.33,636.84 194.17,636.83 195.00,636.81 C195.83,636.79 196.67,636.77 197.50,636.76 C198.33,636.74 199.17,636.72 200.00,636.71 C200.83,636.69 201.67,636.67 202.50,636.65 C203.33,636.63 204.17,636.62 205.00,636.60 C205.83,636.58 206.67,636.56 207.50,636.54 C208.33,636.53 209.17,636.51 210.00,636.49 C210.83,636.47 211.67,636.45 212.50,636.43 C213.33,636.42 214.17,636.40 215.00,636.38 C215.83,636.36 216.67,636.34 217.50,636.32 C218.33,636.30 219.17,636.28 220.00,636.26 C220.83,636.25 221.67,636.23 222.50,636.21 C223.33,636.19 224.17,636.17 225.00,636.15 C225.83,636.13 226.67,636.11 227.50,636.09 C228.33,636.07 229.17,636.05 230.00,636.03 C230.83,636.01 231.67,635.99 232.50,635.97 C233.33,635.95 234.17,635.93 235.00,635.91 C235.83,635.89 236.67,635.87 237.50,635.84 C238.33,635.82 239.17,635.80 240.00,635.78 C240.83,635.76 241.67,635.74 242.50,635.72 C243.33,635.70 244.17,635.68 245.00,635.65 C245.83,635.63 246.67,635.61 247.50,635.59 C248.33,635.57 249.17,635.54 250.00,635.52 C250.83,635.50 251.67,635.48 252.50,635.46 C253.33,635.43 254.17,635.41 255.00,635.39 C255.83,635.37 256.67,635.34 257.50,635.32 C258.33,635.30 259.17,635.28 260.00,635.25 C260.83,635.23 261.67,635.21 262.50,635.18 C263.33,635.16 264.17,635.14 265.00,635.11 C265.83,635.09 266.67,635.07 267.50,635.04 C268.33,635.02 269.17,634.99 270.00,634.97 C270.83,634.95 271.67,634.92 272.50,634.90 C273.33,634.87 274.17,634.85 275.00,634.82 C275.83,634.80 276.67,634.77 277.50,634.75 C278.33,634.72 279.17,634.70 280.00,634.67 C280.83,634.65 281.67,634.62 282.50,634.60 C283.33,634.57 284.17,634.55 285.00,634.52 C285.83,634.50 286.67,634.47 287.50,634.44 C288.33,634.42 289.17,634.39 290.00,634.37 C290.83,634.34 291.67,634.31 292.50,634.29 C293.33,634.26 294.17,634.23 295.00,634.21 C295.83,634.18 296.67,634.15 297.50,634.13 C298.33,634.10 299.17,634.07 300.00,634.05 C300.83,634.02 301.67,633.99 302.50,633.96 C303.33,633.94 304.17,633.91 305.00,633.88 C305.83,633.85 306.67,633.82 307.50,633.80 C308.33,633.77 309.17,633.74 310.00,633.71 C310.83,633.68 311.67,633.65 312.50,633.62 C313.33,633.60 314.17,633.57 315.00,633.54 C315.83,633.51 316.67,633.48 317.50,633.45 C318.33,633.42 319.17,633.39 320.00,633.36 C320.83,633.33 321.67,633.30 322.50,633.27 C323.33,633.24 324.17,633.21 325.00,633.18 C325.83,633.15 326.67,633.12 327.50,633.09 C328.33,633.06 329.17,633.03 330.00,633.00 C330.83,632.97 331.67,632.94 332.50,632.90 C333.33,632.87 334.17,632.84 335.00,632.81 C335.83,632.78 336.67,632.75 337.50,632.72 C338.33,632.68 339.17,632.65 340.00,632.62 C340.83,632.59 341.67,632.55 342.50,632.52 C343.33,632.49 344.17,632.46 345.00,632.42 C345.83,632.39 346.67,632.36 347.50,632.33 C348.33,632.29 349.17,632.26 350.00,632.23 C350.83,632.19 351.67,632.16 352.50,632.12 C353.33,632.09 354.17,632.06 355.00,632.02 C355.83,631.99 356.67,631.95 357.50,631.92 C358.33,631.89 359.17,631.85 360.00,631.82 C360.83,631.78 361.67,631.75 362.50,631.71 C363.33,631.68 364.17,631.64 365.00,631.61 C365.83,631.57 366.67,631.54 367.50,631.50 C368.33,631.46 369.17,631.43 370.00,631.39 C370.83,631.36 371.67,631.32 372.50,631.28 C373.33,631.25 374.17,631.21 375.00,631.17 C375.83,631.14 376.67,631.10 377.50,631.06 C378.33,631.03 379.17,630.99 380.00,630.95 C380.83,630.91 381.67,630.88 382.50,630.84 C383.33,630.80 384.17,630.76 385.00,630.72 C385.83,630.69 386.67,630.65 387.50,630.61 C388.33,630.57 389.17,630.53 390.00,630.49 C390.83,630.45 391.67,630.41 392.50,630.38 C393.33,630.34 394.17,630.30 395.00,630.26 C395.83,630.22 396.67,630.18 397.50,630.14 C398.33,630.10 399.17,630.06 400.00,630.02 C400.83,629.98 401.67,629.94 402.50,629.90 C403.33,629.86 404.17,629.81 405.00,629.77 C405.83,629.73 406.67,629.69 407.50,629.65 C408.33,629.61 409.17,629.57 410.00,629.53 C410.83,629.48 411.67,629.44 412.50,629.40 C413.33,629.36 414.17,629.31 415.00,629.27 C415.83,629.23 416.67,629.19 417.50,629.14 C418.33,629.10 419.17,629.06 420.00,629.02 C420.83,628.97 421.67,628.93 422.50,628.88 C423.33,628.84 424.17,628.80 425.00,628.75 C425.83,628.71 426.67,628.66 427.50,628.62 C428.33,628.58 429.17,628.53 430.00,628.49 C430.83,628.44 431.67,628.40 432.50,628.35 C433.33,628.31 434.17,628.26 435.00,628.22 C435.83,628.17 436.67,628.12 437.50,628.08 C438.33,628.03 439.17,627.99 440.00,627.94 C440.83,627.89 441.67,627.85 442.50,627.80 C443.33,627.75 444.17,627.71 445.00,627.66 C445.83,627.61 446.67,627.57 447.50,627.52 C448.33,627.47 449.17,627.42 450.00,627.37 C450.83,627.33 451.67,627.28 452.50,627.23 C453.33,627.18 454.17,627.13 455.00,627.08 C455.83,627.04 456.67,626.99 457.50,626.94 C458.33,626.89 459.17,626.84 460.00,626.79 C460.83,626.74 461.67,626.69 462.50,626.64 C463.33,626.59 464.17,626.54 465.00,626.49 C465.83,626.44 466.67,626.39 467.50,626.34 C468.33,626.29 469.17,626.24 470.00,626.18 C470.83,626.13 471.67,626.08 472.50,626.03 C473.33,625.98 474.17,625.93 475.00,625.87 C475.83,625.82 476.67,625.77 477.50,625.72 C478.33,625.67 479.17,625.61 480.00,625.56 C480.83,625.51 481.67,625.45 482.50,625.40 C483.33,625.35 484.17,625.29 485.00,625.24 C485.83,625.19 486.67,625.13 487.50,625.08 C488.33,625.02 489.17,624.97 490.00,624.92 C490.83,624.86 491.67,624.81 492.50,624.75 C493.33,624.70 494.17,624.64 495.00,624.58 C495.83,624.53 496.67,624.47 497.50,624.42 C498.33,624.36 499.17,624.31 500.00,624.25 C500.83,624.19 501.67,624.14 502.50,624.08 C503.33,624.02 504.17,623.97 505.00,623.91 C505.83,623.85 506.67,623.79 507.50,623.74 C508.33,623.68 509.50,623.60 510.00,623.56 C510.50,623.53 510.42,623.53 510.50,623.53" fill="none" stroke="#0f8080" stroke-width="1.3" stroke-linejoin="round" stroke-linecap="round"/>
<path d="M121.70,640.20 C123.83,640.15 132.28,639.98 134.50,639.90 C136.72,639.82 134.50,639.77 135.00,639.72 C135.50,639.67 136.67,639.64 137.50,639.60 C138.33,639.56 139.17,639.53 140.00,639.49 C140.83,639.45 141.67,639.41 142.50,639.37 C143.33,639.34 144.17,639.30 145.00,639.26 C145.83,639.22 146.67,639.18 147.50,639.14 C148.33,639.11 149.17,639.07 150.00,639.03 C150.83,638.99 151.67,638.95 152.50,638.91 C153.33,638.87 154.17,638.84 155.00,638.80 C155.83,638.76 156.67,638.72 157.50,638.68 C158.33,638.64 159.17,638.60 160.00,638.56 C160.83,638.52 161.67,638.48 162.50,638.45 C163.33,638.41 164.17,638.37 165.00,638.33 C165.83,638.29 166.67,638.25 167.50,638.21 C168.33,638.17 169.17,638.13 170.00,638.09 C170.83,638.05 171.67,638.01 172.50,637.97 C173.33,637.93 174.17,637.89 175.00,637.85 C175.83,637.82 176.67,637.78 177.50,637.74 C178.33,637.70 179.17,637.66 180.00,637.62 C180.83,637.58 181.67,637.54 182.50,637.50 C183.33,637.46 184.17,637.42 185.00,637.38 C185.83,637.34 186.67,637.30 187.50,637.26 C188.33,637.22 189.17,637.18 190.00,637.14 C190.83,637.10 191.67,637.06 192.50,637.02 C193.33,636.98 194.17,636.94 195.00,636.90 C195.83,636.86 196.67,636.82 197.50,636.78 C198.33,636.74 199.17,636.70 200.00,636.66 C200.83,636.62 201.67,636.58 202.50,636.54 C203.33,636.50 204.17,636.46 205.00,636.42 C205.83,636.38 206.67,636.34 207.50,636.30 C208.33,636.26 209.17,636.21 210.00,636.17 C210.83,636.13 211.67,636.09 212.50,636.05 C213.33,636.01 214.17,635.97 215.00,635.93 C215.83,635.89 216.67,635.85 217.50,635.81 C218.33,635.77 219.17,635.73 220.00,635.69 C220.83,635.65 221.67,635.61 222.50,635.57 C223.33,635.53 224.17,635.49 225.00,635.45 C225.83,635.41 226.67,635.37 227.50,635.33 C228.33,635.29 229.17,635.25 230.00,635.21 C230.83,635.17 231.67,635.13 232.50,635.09 C233.33,635.05 234.17,635.01 235.00,634.97 C235.83,634.93 236.67,634.89 237.50,634.85 C238.33,634.81 239.17,634.77 240.00,634.73 C240.83,634.69 241.67,634.65 242.50,634.61 C243.33,634.57 244.17,634.53 245.00,634.49 C245.83,634.45 246.67,634.41 247.50,634.37 C248.33,634.33 249.17,634.29 250.00,634.25 C250.83,634.21 251.67,634.17 252.50,634.13 C253.33,634.09 254.17,634.05 255.00,634.01 C255.83,633.97 256.67,633.93 257.50,633.89 C258.33,633.85 259.17,633.81 260.00,633.77 C260.83,633.73 261.67,633.69 262.50,633.65 C263.33,633.61 264.17,633.57 265.00,633.53 C265.83,633.50 266.67,633.46 267.50,633.42 C268.33,633.38 269.17,633.34 270.00,633.30 C270.83,633.26 271.67,633.22 272.50,633.18 C273.33,633.14 274.17,633.10 275.00,633.06 C275.83,633.03 276.67,632.99 277.50,632.95 C278.33,632.91 279.17,632.87 280.00,632.83 C280.83,632.79 281.67,632.75 282.50,632.72 C283.33,632.68 284.17,632.64 285.00,632.60 C285.83,632.56 286.67,632.52 287.50,632.48 C288.33,632.45 289.17,632.41 290.00,632.37 C290.83,632.33 291.67,632.29 292.50,632.26 C293.33,632.22 294.17,632.18 295.00,632.14 C295.83,632.10 296.67,632.07 297.50,632.03 C298.33,631.99 299.17,631.95 300.00,631.92 C300.83,631.88 301.67,631.84 302.50,631.80 C303.33,631.77 304.17,631.73 305.00,631.69 C305.83,631.65 306.67,631.62 307.50,631.58 C308.33,631.54 309.17,631.51 310.00,631.47 C310.83,631.43 311.67,631.39 312.50,631.36 C313.33,631.32 314.17,631.28 315.00,631.25 C315.83,631.21 316.67,631.17 317.50,631.14 C318.33,631.10 319.17,631.07 320.00,631.03 C320.83,630.99 321.67,630.96 322.50,630.92 C323.33,630.89 324.17,630.85 325.00,630.81 C325.83,630.78 326.67,630.74 327.50,630.71 C328.33,630.67 329.17,630.64 330.00,630.60 C330.83,630.57 331.67,630.53 332.50,630.50 C333.33,630.46 334.17,630.43 335.00,630.39 C335.83,630.36 336.67,630.32 337.50,630.29 C338.33,630.25 339.17,630.22 340.00,630.18 C340.83,630.15 341.67,630.11 342.50,630.08 C343.33,630.05 344.17,630.01 345.00,629.98 C345.83,629.94 346.67,629.91 347.50,629.88 C348.33,629.84 349.17,629.81 350.00,629.78 C350.83,629.74 351.67,629.71 352.50,629.68 C353.33,629.64 354.17,629.61 355.00,629.58 C355.83,629.54 356.67,629.51 357.50,629.48 C358.33,629.45 359.17,629.41 360.00,629.38 C360.83,629.35 361.67,629.32 362.50,629.28 C363.33,629.25 364.17,629.22 365.00,629.19 C365.83,629.16 366.67,629.12 367.50,629.09 C368.33,629.06 369.17,629.03 370.00,629.00 C370.83,628.97 371.67,628.94 372.50,628.91 C373.33,628.87 374.17,628.84 375.00,628.81 C375.83,628.78 376.67,628.75 377.50,628.72 C378.33,628.69 379.17,628.66 380.00,628.63 C380.83,628.60 381.67,628.57 382.50,628.54 C383.33,628.51 384.17,628.48 385.00,628.45 C385.83,628.42 386.67,628.39 387.50,628.37 C388.33,628.34 389.17,628.31 390.00,628.28 C390.83,628.25 391.67,628.22 392.50,628.19 C393.33,628.16 394.17,628.14 395.00,628.11 C395.83,628.08 396.67,628.05 397.50,628.02 C398.33,628.00 399.17,627.97 400.00,627.94 C400.83,627.92 401.67,627.89 402.50,627.86 C403.33,627.83 404.17,627.81 405.00,627.78 C405.83,627.75 406.67,627.73 407.50,627.70 C408.33,627.67 409.17,627.65 410.00,627.62 C410.83,627.60 411.67,627.57 412.50,627.55 C413.33,627.52 414.17,627.49 415.00,627.47 C415.83,627.44 416.67,627.42 417.50,627.39 C418.33,627.37 419.17,627.35 420.00,627.32 C420.83,627.30 421.67,627.27 422.50,627.25 C423.33,627.22 424.17,627.20 425.00,627.18 C425.83,627.15 426.67,627.13 427.50,627.11 C428.33,627.08 429.17,627.06 430.00,627.04 C430.83,627.02 431.67,626.99 432.50,626.97 C433.33,626.95 434.17,626.93 435.00,626.90 C435.83,626.88 436.67,626.86 437.50,626.84 C438.33,626.82 439.17,626.80 440.00,626.77 C440.83,626.75 441.67,626.73 442.50,626.71 C443.33,626.69 444.17,626.67 445.00,626.65 C445.83,626.63 446.67,626.61 447.50,626.59 C448.33,626.57 449.17,626.55 450.00,626.53 C450.83,626.51 451.67,626.49 452.50,626.47 C453.33,626.46 454.17,626.44 455.00,626.42 C455.83,626.40 456.67,626.38 457.50,626.36 C458.33,626.35 459.17,626.33 460.00,626.31 C460.83,626.29 461.67,626.28 462.50,626.26 C463.33,626.24 464.17,626.23 465.00,626.21 C465.83,626.19 466.67,626.18 467.50,626.16 C468.33,626.14 469.17,626.13 470.00,626.11 C470.83,626.10 471.67,626.08 472.50,626.07 C473.33,626.05 474.17,626.04 475.00,626.02 C475.83,626.01 476.67,625.99 477.50,625.98 C478.33,625.96 479.17,625.95 480.00,625.94 C480.83,625.92 481.67,625.91 482.50,625.90 C483.33,625.88 484.17,625.87 485.00,625.86 C485.83,625.85 486.67,625.83 487.50,625.82 C488.33,625.81 489.17,625.80 490.00,625.79 C490.83,625.77 491.67,625.76 492.50,625.75 C493.33,625.74 494.17,625.73 495.00,625.72 C495.83,625.71 496.67,625.70 497.50,625.69 C498.33,625.68 499.17,625.67 500.00,625.66 C500.83,625.65 501.67,625.64 502.50,625.63 C503.33,625.62 504.17,625.61 505.00,625.61 C505.83,625.60 506.67,625.59 507.50,625.58 C508.33,625.57 509.50,625.56 510.00,625.56 C510.50,625.56 510.42,625.56 510.50,625.56" fill="none" stroke="#ff7a00" stroke-width="1.3" stroke-linejoin="round" stroke-linecap="round"/>
<path d="M122.00,638.70 C122.23,638.32 122.95,636.97 123.40,636.40 C123.85,635.83 124.10,635.60 124.70,635.30 C125.30,635.00 125.88,634.78 127.00,634.60 C128.12,634.42 129.92,634.32 131.40,634.20 C132.88,634.08 134.97,633.97 135.90,633.90 C136.83,633.83 136.40,633.81 137.00,633.77 C137.60,633.72 138.67,633.68 139.50,633.65 C140.33,633.62 141.17,633.60 142.00,633.58 C142.83,633.56 143.67,633.55 144.50,633.54 C145.33,633.53 146.17,633.53 147.00,633.53 C147.83,633.53 148.67,633.54 149.50,633.55 C150.33,633.56 151.17,633.57 152.00,633.58 C152.83,633.60 153.67,633.61 154.50,633.63 C155.33,633.65 156.17,633.67 157.00,633.68 C157.83,633.70 158.67,633.72 159.50,633.74 C160.33,633.76 161.17,633.78 162.00,633.80 C162.83,633.81 163.67,633.83 164.50,633.84 C165.33,633.86 166.17,633.87 167.00,633.88 C167.83,633.89 168.67,633.89 169.50,633.89 C170.33,633.90 171.17,633.89 172.00,633.89 C172.83,633.88 173.67,633.87 174.50,633.85 C175.33,633.83 176.17,633.81 177.00,633.78 C177.83,633.75 178.67,633.71 179.50,633.66 C180.33,633.62 181.17,633.57 182.00,633.51 C182.83,633.46 183.67,633.39 184.50,633.32 C185.33,633.26 186.17,633.18 187.00,633.10 C187.83,633.02 188.67,632.94 189.50,632.85 C190.33,632.76 191.17,632.67 192.00,632.57 C192.83,632.47 193.67,632.37 194.50,632.27 C195.33,632.16 196.17,632.06 197.00,631.95 C197.83,631.84 198.67,631.72 199.50,631.61 C200.33,631.49 201.17,631.37 202.00,631.26 C202.83,631.14 203.67,631.02 204.50,630.90 C205.33,630.77 206.17,630.65 207.00,630.53 C207.83,630.41 208.67,630.28 209.50,630.16 C210.33,630.04 211.17,629.92 212.00,629.79 C212.83,629.67 213.67,629.55 214.50,629.43 C215.33,629.30 216.17,629.18 217.00,629.06 C217.83,628.94 218.67,628.81 219.50,628.69 C220.33,628.57 221.17,628.45 222.00,628.32 C222.83,628.20 223.67,628.08 224.50,627.96 C225.33,627.83 226.17,627.71 227.00,627.59 C227.83,627.47 228.67,627.34 229.50,627.22 C230.33,627.10 231.17,626.97 232.00,626.85 C232.83,626.72 233.67,626.60 234.50,626.48 C235.33,626.35 236.17,626.23 237.00,626.10 C237.83,625.97 238.67,625.85 239.50,625.72 C240.33,625.60 241.17,625.47 242.00,625.34 C242.83,625.22 243.67,625.09 244.50,624.96 C245.33,624.83 246.17,624.70 247.00,624.57 C247.83,624.44 248.67,624.31 249.50,624.18 C250.33,624.05 251.17,623.92 252.00,623.79 C252.83,623.66 253.67,623.52 254.50,623.39 C255.33,623.26 256.17,623.12 257.00,622.99 C257.83,622.85 258.67,622.71 259.50,622.58 C260.33,622.44 261.17,622.30 262.00,622.16 C262.83,622.02 263.67,621.88 264.50,621.74 C265.33,621.60 266.17,621.46 267.00,621.32 C267.83,621.17 268.67,621.03 269.50,620.89 C270.33,620.74 271.17,620.59 272.00,620.45 C272.83,620.30 273.67,620.15 274.50,620.00 C275.33,619.85 276.17,619.70 277.00,619.55 C277.83,619.40 278.67,619.25 279.50,619.09 C280.33,618.94 281.17,618.78 282.00,618.62 C282.83,618.47 283.67,618.31 284.50,618.15 C285.33,617.99 286.17,617.83 287.00,617.67 C287.83,617.50 288.67,617.34 289.50,617.17 C290.33,617.01 291.17,616.84 292.00,616.67 C292.83,616.51 293.67,616.34 294.50,616.17 C295.33,616.00 296.17,615.82 297.00,615.65 C297.83,615.47 298.67,615.30 299.50,615.12 C300.33,614.95 301.17,614.77 302.00,614.59 C302.83,614.41 303.67,614.22 304.50,614.04 C305.33,613.86 306.17,613.67 307.00,613.48 C307.83,613.30 308.67,613.11 309.50,612.92 C310.33,612.73 311.17,612.54 312.00,612.34 C312.83,612.15 313.67,611.95 314.50,611.75 C315.33,611.56 316.17,611.36 317.00,611.16 C317.83,610.95 318.67,610.75 319.50,610.55 C320.33,610.34 321.17,610.14 322.00,609.93 C322.83,609.72 323.67,609.51 324.50,609.30 C325.33,609.08 326.17,608.87 327.00,608.65 C327.83,608.44 328.67,608.22 329.50,608.00 C330.33,607.78 331.17,607.56 332.00,607.34 C332.83,607.11 333.67,606.89 334.50,606.66 C335.33,606.43 336.17,606.20 337.00,605.97 C337.83,605.74 338.67,605.51 339.50,605.28 C340.33,605.04 341.17,604.80 342.00,604.57 C342.83,604.33 343.67,604.09 344.50,603.85 C345.33,603.60 346.17,603.36 347.00,603.11 C347.83,602.87 348.67,602.62 349.50,602.37 C350.33,602.12 351.17,601.87 352.00,601.61 C352.83,601.36 353.67,601.10 354.50,600.85 C355.33,600.59 356.17,600.33 357.00,600.07 C357.83,599.81 358.67,599.54 359.50,599.28 C360.33,599.01 361.17,598.74 362.00,598.48 C362.83,598.21 363.67,597.94 364.50,597.66 C365.33,597.39 366.17,597.11 367.00,596.84 C367.83,596.56 368.67,596.28 369.50,596.00 C370.33,595.72 371.17,595.43 372.00,595.15 C372.83,594.86 373.67,594.58 374.50,594.29 C375.33,594.00 376.17,593.71 377.00,593.41 C377.83,593.12 378.67,592.83 379.50,592.53 C380.33,592.23 381.17,591.93 382.00,591.63 C382.83,591.33 383.67,591.03 384.50,590.72 C385.33,590.42 386.17,590.11 387.00,589.80 C387.83,589.49 388.67,589.18 389.50,588.87 C390.33,588.55 391.17,588.24 392.00,587.92 C392.83,587.60 393.67,587.28 394.50,586.96 C395.33,586.64 396.17,586.32 397.00,585.99 C397.83,585.66 398.67,585.34 399.50,585.01 C400.33,584.68 401.17,584.34 402.00,584.01 C402.83,583.68 403.67,583.34 404.50,583.00 C405.33,582.66 406.17,582.32 407.00,581.98 C407.83,581.64 408.67,581.29 409.50,580.95 C410.33,580.60 411.17,580.25 412.00,579.90 C412.83,579.55 413.67,579.20 414.50,578.85 C415.33,578.49 416.17,578.14 417.00,577.78 C417.83,577.42 418.67,577.06 419.50,576.70 C420.33,576.34 421.17,575.98 422.00,575.62 C422.83,575.25 423.67,574.89 424.50,574.52 C425.33,574.15 426.17,573.78 427.00,573.41 C427.83,573.04 428.67,572.67 429.50,572.30 C430.33,571.92 431.17,571.54 432.00,571.16 C432.83,570.78 433.67,570.40 434.50,570.02 C435.33,569.63 436.17,569.24 437.00,568.85 C437.83,568.46 438.67,568.06 439.50,567.66 C440.33,567.26 441.17,566.86 442.00,566.45 C442.83,566.04 443.67,565.63 444.50,565.21 C445.33,564.80 446.17,564.37 447.00,563.95 C447.83,563.52 448.67,563.09 449.50,562.65 C450.33,562.21 451.17,561.76 452.00,561.31 C452.83,560.87 453.67,560.41 454.50,559.95 C455.33,559.49 456.17,559.02 457.00,558.55 C457.83,558.08 458.67,557.60 459.50,557.12 C460.33,556.64 461.17,556.15 462.00,555.66 C462.83,555.16 463.67,554.66 464.50,554.16 C465.33,553.66 466.17,553.15 467.00,552.63 C467.83,552.12 468.67,551.60 469.50,551.08 C470.33,550.55 471.17,550.02 472.00,549.49 C472.83,548.95 473.67,548.41 474.50,547.87 C475.33,547.32 476.17,546.77 477.00,546.22 C477.83,545.67 478.67,545.11 479.50,544.54 C480.33,543.98 481.17,543.41 482.00,542.83 C482.83,542.26 483.67,541.68 484.50,541.09 C485.33,540.50 486.17,539.91 487.00,539.32 C487.83,538.72 488.67,538.12 489.50,537.51 C490.33,536.90 491.17,536.29 492.00,535.67 C492.83,535.05 493.67,534.42 494.50,533.79 C495.33,533.16 496.17,532.52 497.00,531.87 C497.83,531.23 498.67,530.58 499.50,529.92 C500.33,529.26 501.17,528.60 502.00,527.93 C502.83,527.26 503.67,526.58 504.50,525.89 C505.33,525.21 506.17,524.52 507.00,523.82 C507.83,523.12 508.92,522.20 509.50,521.70 C510.08,521.20 510.33,520.98 510.50,520.84" fill="none" stroke="#800080" stroke-width="1.25" stroke-linejoin="round" stroke-linecap="round"/>
<path d="M122.00,638.70 C122.08,637.80 122.35,634.87 122.50,633.30 C122.65,631.73 122.72,630.35 122.90,629.30 C123.08,628.25 123.30,627.83 123.60,627.00 C123.90,626.17 124.13,625.23 124.70,624.30 C125.27,623.37 126.25,622.18 127.00,621.40 C127.75,620.62 128.47,620.12 129.20,619.60 C129.93,619.08 130.65,618.70 131.40,618.30 C132.15,617.90 132.93,617.57 133.70,617.20 C134.47,616.83 135.45,616.36 136.00,616.10 C136.55,615.84 136.42,615.90 137.00,615.64 C137.58,615.38 138.67,614.88 139.50,614.52 C140.33,614.17 141.17,613.82 142.00,613.49 C142.83,613.15 143.67,612.83 144.50,612.52 C145.33,612.21 146.17,611.92 147.00,611.64 C147.83,611.35 148.67,611.08 149.50,610.83 C150.33,610.57 151.17,610.32 152.00,610.09 C152.83,609.86 153.67,609.64 154.50,609.43 C155.33,609.22 156.17,609.02 157.00,608.83 C157.83,608.65 158.67,608.47 159.50,608.30 C160.33,608.13 161.17,607.97 162.00,607.82 C162.83,607.67 163.67,607.52 164.50,607.38 C165.33,607.24 166.17,607.11 167.00,606.98 C167.83,606.86 168.67,606.73 169.50,606.61 C170.33,606.49 171.17,606.38 172.00,606.26 C172.83,606.15 173.67,606.04 174.50,605.93 C175.33,605.82 176.17,605.71 177.00,605.60 C177.83,605.49 178.67,605.38 179.50,605.27 C180.33,605.15 181.17,605.04 182.00,604.92 C182.83,604.81 183.67,604.69 184.50,604.56 C185.33,604.44 186.17,604.31 187.00,604.18 C187.83,604.05 188.67,603.91 189.50,603.77 C190.33,603.62 191.17,603.48 192.00,603.33 C192.83,603.18 193.67,603.02 194.50,602.86 C195.33,602.71 196.17,602.54 197.00,602.38 C197.83,602.21 198.67,602.04 199.50,601.87 C200.33,601.70 201.17,601.52 202.00,601.34 C202.83,601.16 203.67,600.98 204.50,600.79 C205.33,600.61 206.17,600.42 207.00,600.23 C207.83,600.04 208.67,599.84 209.50,599.65 C210.33,599.45 211.17,599.25 212.00,599.05 C212.83,598.85 213.67,598.65 214.50,598.45 C215.33,598.24 216.17,598.03 217.00,597.83 C217.83,597.62 218.67,597.41 219.50,597.20 C220.33,596.99 221.17,596.77 222.00,596.56 C222.83,596.35 223.67,596.13 224.50,595.91 C225.33,595.70 226.17,595.48 227.00,595.26 C227.83,595.05 228.67,594.83 229.50,594.61 C230.33,594.39 231.17,594.17 232.00,593.95 C232.83,593.73 233.67,593.51 234.50,593.29 C235.33,593.07 236.17,592.85 237.00,592.63 C237.83,592.41 238.67,592.19 239.50,591.97 C240.33,591.75 241.17,591.53 242.00,591.31 C242.83,591.08 243.67,590.86 244.50,590.64 C245.33,590.42 246.17,590.19 247.00,589.97 C247.83,589.75 248.67,589.52 249.50,589.30 C250.33,589.07 251.17,588.85 252.00,588.62 C252.83,588.40 253.67,588.17 254.50,587.94 C255.33,587.72 256.17,587.49 257.00,587.26 C257.83,587.03 258.67,586.80 259.50,586.57 C260.33,586.34 261.17,586.11 262.00,585.88 C262.83,585.65 263.67,585.42 264.50,585.19 C265.33,584.95 266.17,584.72 267.00,584.49 C267.83,584.25 268.67,584.02 269.50,583.78 C270.33,583.55 271.17,583.31 272.00,583.07 C272.83,582.84 273.67,582.60 274.50,582.36 C275.33,582.12 276.17,581.88 277.00,581.64 C277.83,581.40 278.67,581.15 279.50,580.91 C280.33,580.67 281.17,580.42 282.00,580.18 C282.83,579.93 283.67,579.68 284.50,579.43 C285.33,579.19 286.17,578.94 287.00,578.68 C287.83,578.43 288.67,578.18 289.50,577.93 C290.33,577.67 291.17,577.42 292.00,577.16 C292.83,576.90 293.67,576.65 294.50,576.39 C295.33,576.13 296.17,575.86 297.00,575.60 C297.83,575.34 298.67,575.07 299.50,574.81 C300.33,574.54 301.17,574.27 302.00,574.00 C302.83,573.73 303.67,573.46 304.50,573.19 C305.33,572.91 306.17,572.64 307.00,572.36 C307.83,572.08 308.67,571.81 309.50,571.52 C310.33,571.24 311.17,570.96 312.00,570.68 C312.83,570.39 313.67,570.10 314.50,569.81 C315.33,569.52 316.17,569.23 317.00,568.94 C317.83,568.65 318.67,568.35 319.50,568.05 C320.33,567.75 321.17,567.45 322.00,567.15 C322.83,566.85 323.67,566.54 324.50,566.24 C325.33,565.93 326.17,565.62 327.00,565.31 C327.83,564.99 328.67,564.68 329.50,564.36 C330.33,564.04 331.17,563.72 332.00,563.40 C332.83,563.08 333.67,562.75 334.50,562.43 C335.33,562.10 336.17,561.77 337.00,561.43 C337.83,561.10 338.67,560.77 339.50,560.43 C340.33,560.09 341.17,559.75 342.00,559.40 C342.83,559.06 343.67,558.71 344.50,558.36 C345.33,558.01 346.17,557.66 347.00,557.30 C347.83,556.94 348.67,556.58 349.50,556.22 C350.33,555.86 351.17,555.49 352.00,555.13 C352.83,554.76 353.67,554.38 354.50,554.01 C355.33,553.63 356.17,553.26 357.00,552.87 C357.83,552.49 358.67,552.11 359.50,551.72 C360.33,551.33 361.17,550.94 362.00,550.54 C362.83,550.15 363.67,549.75 364.50,549.35 C365.33,548.95 366.17,548.54 367.00,548.13 C367.83,547.73 368.67,547.31 369.50,546.90 C370.33,546.48 371.17,546.07 372.00,545.64 C372.83,545.22 373.67,544.80 374.50,544.37 C375.33,543.94 376.17,543.51 377.00,543.07 C377.83,542.63 378.67,542.20 379.50,541.75 C380.33,541.31 381.17,540.86 382.00,540.41 C382.83,539.96 383.67,539.51 384.50,539.06 C385.33,538.60 386.17,538.14 387.00,537.67 C387.83,537.21 388.67,536.74 389.50,536.27 C390.33,535.80 391.17,535.33 392.00,534.85 C392.83,534.37 393.67,533.89 394.50,533.41 C395.33,532.92 396.17,532.43 397.00,531.94 C397.83,531.45 398.67,530.95 399.50,530.45 C400.33,529.95 401.17,529.45 402.00,528.94 C402.83,528.44 403.67,527.93 404.50,527.41 C405.33,526.90 406.17,526.38 407.00,525.86 C407.83,525.34 408.67,524.81 409.50,524.28 C410.33,523.76 411.17,523.22 412.00,522.69 C412.83,522.15 413.67,521.61 414.50,521.07 C415.33,520.52 416.17,519.98 417.00,519.43 C417.83,518.88 418.67,518.32 419.50,517.76 C420.33,517.20 421.17,516.64 422.00,516.07 C422.83,515.51 423.67,514.94 424.50,514.37 C425.33,513.79 426.17,513.21 427.00,512.63 C427.83,512.05 428.67,511.47 429.50,510.88 C430.33,510.29 431.17,509.70 432.00,509.10 C432.83,508.50 433.67,507.90 434.50,507.30 C435.33,506.69 436.17,506.08 437.00,505.47 C437.83,504.86 438.67,504.24 439.50,503.62 C440.33,503.00 441.17,502.38 442.00,501.75 C442.83,501.12 443.67,500.49 444.50,499.85 C445.33,499.22 446.17,498.58 447.00,497.94 C447.83,497.29 448.67,496.64 449.50,495.99 C450.33,495.34 451.17,494.68 452.00,494.02 C452.83,493.37 453.67,492.70 454.50,492.03 C455.33,491.37 456.17,490.69 457.00,490.02 C457.83,489.34 458.67,488.66 459.50,487.98 C460.33,487.29 461.17,486.61 462.00,485.91 C462.83,485.22 463.67,484.53 464.50,483.82 C465.33,483.12 466.17,482.42 467.00,481.71 C467.83,481.00 468.67,480.29 469.50,479.57 C470.33,478.86 471.17,478.13 472.00,477.41 C472.83,476.68 473.67,475.96 474.50,475.22 C475.33,474.49 476.17,473.75 477.00,473.01 C477.83,472.27 478.67,471.52 479.50,470.77 C480.33,470.02 481.17,469.26 482.00,468.51 C482.83,467.75 483.67,466.98 484.50,466.22 C485.33,465.45 486.17,464.68 487.00,463.90 C487.83,463.13 488.67,462.35 489.50,461.56 C490.33,460.78 491.17,459.99 492.00,459.20 C492.83,458.40 493.67,457.61 494.50,456.80 C495.33,456.00 496.17,455.20 497.00,454.39 C497.83,453.57 498.67,452.76 499.50,451.94 C500.33,451.12 501.17,450.30 502.00,449.47 C502.83,448.64 503.67,447.81 504.50,446.97 C505.33,446.14 506.17,445.30 507.00,444.45 C507.83,443.61 508.93,442.48 509.50,441.90 C510.07,441.32 510.25,441.13 510.40,440.98" fill="none" stroke="#08088a" stroke-width="1.3" stroke-linejoin="round" stroke-linecap="round"/>
<text x="100.4" y="646.7" font-size="18.6" text-anchor="end" fill="#000" stroke="#000" stroke-width="0.35">0</text>
<text x="100.4" y="606.2" font-size="18.6" text-anchor="end" fill="#000" stroke="#000" stroke-width="0.35">100</text>
<text x="100.4" y="565.7" font-size="18.6" text-anchor="end" fill="#000" stroke="#000" stroke-width="0.35">200</text>
<text x="100.4" y="525.2" font-size="18.6" text-anchor="end" fill="#000" stroke="#000" stroke-width="0.35">300</text>
<text x="100.4" y="484.7" font-size="18.6" text-anchor="end" fill="#000" stroke="#000" stroke-width="0.35">400</text>
<text x="100.4" y="444.2" font-size="18.6" text-anchor="end" fill="#000" stroke="#000" stroke-width="0.35">500</text>
<text x="121.3" y="686.4" font-size="18.6" text-anchor="middle" fill="#000" stroke="#000" stroke-width="0.35">0</text>
<text x="218.6" y="686.4" font-size="18.6" text-anchor="middle" fill="#000" stroke="#000" stroke-width="0.35">1000</text>
<text x="315.8" y="686.4" font-size="18.6" text-anchor="middle" fill="#000" stroke="#000" stroke-width="0.35">2000</text>
<text x="413.1" y="686.4" font-size="18.6" text-anchor="middle" fill="#000" stroke="#000" stroke-width="0.35">3000</text>
<text x="510.3" y="686.4" font-size="18.6" text-anchor="middle" fill="#000" stroke="#000" stroke-width="0.35">4000</text>
<text transform="translate(-0.81,16.66) scale(0.8109,1.1700)" font-size="20" fill="#000" stroke="#000" stroke-width="0.3">(</text>
<text transform="translate(6.15,17.38) scale(0.8858,1.1043)" font-size="20" fill="#000" stroke="#000" stroke-width="0.35">a</text>
<text transform="translate(19.30,16.66) scale(0.8675,1.1700)" font-size="20" fill="#000" stroke="#000" stroke-width="0.3">)</text>
<text transform="translate(-0.61,393.86) scale(0.8109,1.1700)" font-size="20" fill="#000" stroke="#000" stroke-width="0.3">(</text>
<text transform="translate(6.80,394.27) scale(1.0896,1.1574)" font-size="20" fill="#000" stroke="#000" stroke-width="0.35">b</text>
<text transform="translate(20.60,393.86) scale(0.8298,1.1700)" font-size="20" fill="#000" stroke="#000" stroke-width="0.3">)</text>
<text transform="translate(221.64,19.00) scale(0.8303,1.0756)" font-size="20" fill="#000" stroke="#000" stroke-width="0.25">E</text>
<text transform="translate(232.77,24.93) scale(0.7394,0.6907)" font-size="20" fill="#000" stroke="#000" stroke-width="0.18">ap</text>
<text transform="translate(254.75,18.43) scale(1.0703,0.9309)" font-size="20" fill="#000" stroke="#000" stroke-width="0.18">=</text>
<text transform="translate(273.33,19.18) scale(1.1192,1.1087)" font-size="20" fill="#000" stroke="#000" stroke-width="0.05">0</text>
<text transform="translate(285.01,19.50) scale(1.3653,1.2157)" font-size="20" fill="#000" stroke="#000" stroke-width="0.1">.</text>
<text transform="translate(292.34,19.18) scale(1.0983,1.1087)" font-size="20" fill="#000" stroke="#000" stroke-width="0.05">0</text>
<text transform="translate(311.22,19.00) scale(0.9116,1.0901)" font-size="20" fill="#000" stroke="#000" stroke-width="0.2">V</text>
<text transform="translate(329.93,19.00) scale(1.0354,1.0066)" font-size="20" fill="#000" stroke="#000" stroke-width="0.2">vs.</text>
<text transform="translate(362.51,19.19) scale(0.8715,1.0946)" font-size="20" fill="#000" stroke="#000" stroke-width="0.2">SCE</text>
<text transform="translate(203.34,417.00) scale(0.8303,1.0756)" font-size="20" fill="#000" stroke="#000" stroke-width="0.25">E</text>
<text transform="translate(214.47,422.93) scale(0.7394,0.6907)" font-size="20" fill="#000" stroke="#000" stroke-width="0.18">ap</text>
<text transform="translate(236.45,416.43) scale(1.0703,0.9309)" font-size="20" fill="#000" stroke="#000" stroke-width="0.18">=</text>
<text transform="translate(254.83,417.28) scale(1.1192,1.1017)" font-size="20" fill="#000" stroke="#000" stroke-width="0.05">0</text>
<text transform="translate(266.31,417.60) scale(1.4178,1.1689)" font-size="20" fill="#000" stroke="#000" stroke-width="0.1">.</text>
<path d="M279.9,402.2 V416.5 M275.5,416.5 H284.5" stroke="#000" stroke-width="2.1" fill="none"/>
<path d="M280.2,402.4 L275.7,405.9" stroke="#000" stroke-width="1.9" fill="none"/>
<text transform="translate(292.92,417.00) scale(0.9116,1.0901)" font-size="20" fill="#000" stroke="#000" stroke-width="0.2">V</text>
<text transform="translate(311.63,417.00) scale(1.0354,1.0066)" font-size="20" fill="#000" stroke="#000" stroke-width="0.2">vs.</text>
<text transform="translate(344.21,417.19) scale(0.8715,1.0946)" font-size="20" fill="#000" stroke="#000" stroke-width="0.2">SCE</text>
<text transform="translate(294.23,319.69) scale(1.2161,1.0621)" font-size="20" fill="#000" stroke="#000" stroke-width="0.12">time</text>
<line x1="346.6" y1="322.6" x2="353.1" y2="302.2" stroke="#000" stroke-width="1.9" stroke-linecap="butt"/>
<text transform="translate(361.36,319.69) scale(0.9747,1.0798)" font-size="20" fill="#000" stroke="#000" stroke-width="0.15">s</text>
<text transform="translate(287.43,711.69) scale(1.2161,1.0621)" font-size="20" fill="#000" stroke="#000" stroke-width="0.12">time</text>
<line x1="339.8" y1="714.6" x2="346.3" y2="694.2" stroke="#000" stroke-width="1.9" stroke-linecap="butt"/>
<text transform="translate(354.56,711.69) scale(0.9747,1.0798)" font-size="20" fill="#000" stroke="#000" stroke-width="0.15">s</text>
<text transform="translate(42.87,194.64) rotate(-90) scale(0.9962,1.1582)" font-size="20" fill="#000" stroke="#000" stroke-width="0.25">Θ</text>
<text transform="translate(49.20,179.13) rotate(-90) scale(0.8745,0.7849)" font-size="20" fill="#000" stroke="#000" stroke-width="0.25">M</text>
<line x1="25.8" y1="150.5" x2="45.2" y2="158.3" stroke="#000" stroke-width="1.9" stroke-linecap="butt"/>
<text transform="translate(42.80,143.52) rotate(-90) scale(1.1417,1.0686)" font-size="20" fill="#000" stroke="#000" stroke-width="0.25">n</text>
<text transform="translate(42.98,130.74) rotate(-90) scale(1.1230,1.0885)" font-size="20" fill="#000" stroke="#000" stroke-width="0.25">g</text>
<text transform="translate(42.79,113.60) rotate(-90) scale(1.1713,1.0861)" font-size="20" fill="#000" stroke="#000" stroke-width="0.25">c</text>
<text transform="translate(42.90,102.31) rotate(-90) scale(1.1346,1.1151)" font-size="20" fill="#000" stroke="#000" stroke-width="0.25">m</text>
<text transform="translate(37.51,83.66) rotate(-90) scale(0.8602,1.2160)" font-size="20" fill="#000" stroke="#000" stroke-width="0.25">-</text>
<text transform="translate(35.40,77.71) rotate(-90) scale(0.7024,0.7590)" font-size="20" fill="#000" stroke="#000" stroke-width="0.25">2</text>
<text transform="translate(46.27,607.44) rotate(-90) scale(0.9962,1.1582)" font-size="20" fill="#000" stroke="#000" stroke-width="0.25">Θ</text>
<text transform="translate(52.60,591.93) rotate(-90) scale(0.8745,0.7849)" font-size="20" fill="#000" stroke="#000" stroke-width="0.25">M</text>
<line x1="29.2" y1="563.3000000000001" x2="48.6" y2="571.1" stroke="#000" stroke-width="1.9" stroke-linecap="butt"/>
<text transform="translate(46.20,556.32) rotate(-90) scale(1.1417,1.0686)" font-size="20" fill="#000" stroke="#000" stroke-width="0.25">n</text>
<text transform="translate(46.38,543.54) rotate(-90) scale(1.1230,1.0885)" font-size="20" fill="#000" stroke="#000" stroke-width="0.25">g</text>
<text transform="translate(46.19,526.40) rotate(-90) scale(1.1713,1.0861)" font-size="20" fill="#000" stroke="#000" stroke-width="0.25">c</text>
<text transform="translate(46.30,515.11) rotate(-90) scale(1.1346,1.1151)" font-size="20" fill="#000" stroke="#000" stroke-width="0.25">m</text>
<text transform="translate(40.91,496.46) rotate(-90) scale(0.8602,1.2160)" font-size="20" fill="#000" stroke="#000" stroke-width="0.25">-</text>
<text transform="translate(38.80,490.51) rotate(-90) scale(0.7024,0.7590)" font-size="20" fill="#000" stroke="#000" stroke-width="0.25">2</text>
<text transform="translate(507.35,170.32) scale(0.7342,0.9110)" font-size="20" fill="#08088a" stroke="#08088a" stroke-width="0.2">C</text>
<text transform="translate(518.27,170.20) scale(1.0000,0.8828)" font-size="20" fill="#08088a" stroke="#08088a" stroke-width="0.2">r</text>
<text transform="translate(472.41,222.50) scale(0.6649,0.8794)" font-size="20" fill="#0f8080" stroke="#0f8080" stroke-width="0.2">F</text>
<text transform="translate(481.29,223.13) scale(0.8311,0.8579)" font-size="20" fill="#0f8080" stroke="#0f8080" stroke-width="0.2">e</text>
<text transform="translate(517.87,234.62) scale(0.7185,0.8969)" font-size="20" fill="#ff7a00" stroke="#ff7a00" stroke-width="0.2">C</text>
<text transform="translate(528.46,234.63) scale(0.9954,0.8761)" font-size="20" fill="#ff7a00" stroke="#ff7a00" stroke-width="0.2">o</text>
<text transform="translate(486.07,258.70) scale(1.0539,0.9084)" font-size="20" fill="#800080" stroke="#800080" stroke-width="0.2">M</text>
<text transform="translate(504.01,258.70) scale(0.8945,0.8921)" font-size="20" fill="#800080" stroke="#800080" stroke-width="0.2">n</text>
<text transform="translate(519.65,452.32) scale(0.7342,0.9110)" font-size="20" fill="#08088a" stroke="#08088a" stroke-width="0.2">C</text>
<text transform="translate(530.90,452.20) scale(0.9000,0.8828)" font-size="20" fill="#08088a" stroke="#08088a" stroke-width="0.2">r</text>
<text transform="translate(523.16,510.30) scale(1.0614,0.9084)" font-size="20" fill="#800080" stroke="#800080" stroke-width="0.2">M</text>
<text transform="translate(541.21,510.30) scale(0.8945,0.8549)" font-size="20" fill="#800080" stroke="#800080" stroke-width="0.2">n</text>
<text transform="translate(489.01,607.50) scale(0.6649,0.9012)" font-size="20" fill="#0f8080" stroke="#0f8080" stroke-width="0.2">F</text>
<text transform="translate(497.77,607.63) scale(0.8631,0.8579)" font-size="20" fill="#0f8080" stroke="#0f8080" stroke-width="0.2">e</text>
<text transform="translate(519.65,621.62) scale(0.7342,0.8969)" font-size="20" fill="#ff7a00" stroke="#ff7a00" stroke-width="0.2">C</text>
<text transform="translate(530.27,621.63) scale(0.9848,0.8579)" font-size="20" fill="#ff7a00" stroke="#ff7a00" stroke-width="0.2">o</text>
</svg>
</body></html>
